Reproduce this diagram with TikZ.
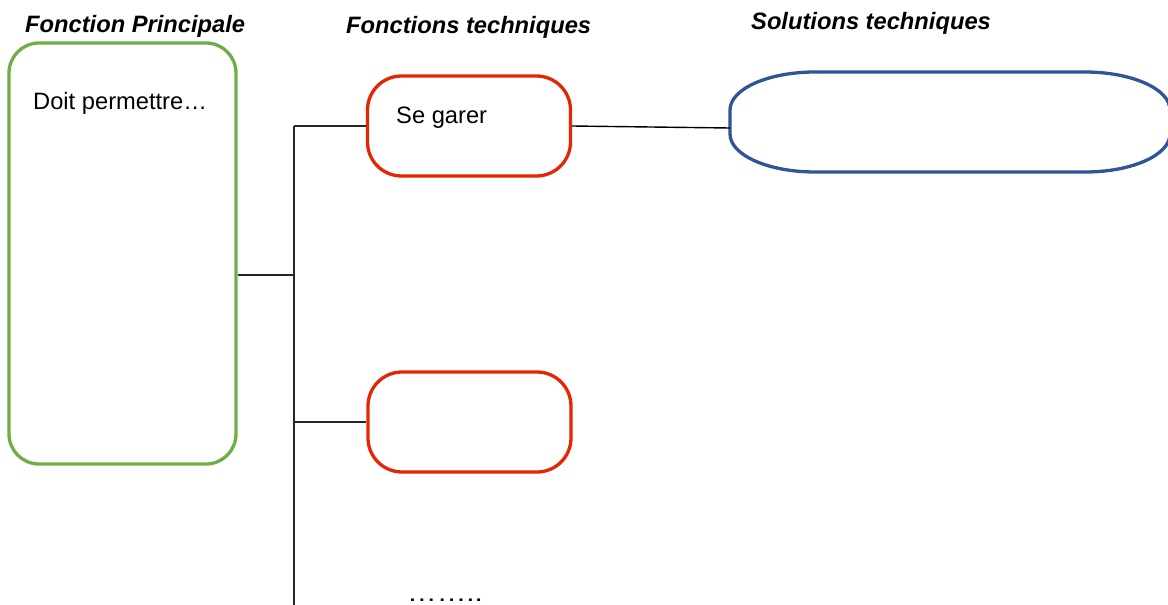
\documentclass[tikz,border=0pt]{standalone}
\usepackage{graphicx}
\usepackage{fontspec}
\setmainfont{Liberation Sans}
\definecolor{fpgreen}{RGB}{112,173,71}
\definecolor{ftred}{RGB}{228,38,4}
\definecolor{stblue}{RGB}{47,85,151}
\begin{document}
\begin{tikzpicture}[x=1pt,y=-1pt,
  txt/.style={inner sep=0pt,anchor=base west,font=\fontsize{23.7}{28}\selectfont},
  ttl/.style={inner sep=0pt,anchor=base west,font=\fontsize{23.7}{28}\selectfont\bfseries\itshape},
  fpbox/.style={draw=fpgreen,line width=3.3pt,rounded corners=30pt,minimum width=227pt,minimum height=421pt,inner sep=0pt},
  ftbox/.style={draw=ftred,line width=3.3pt,rounded corners=34pt,minimum width=203pt,minimum height=100pt,inner sep=0pt},
  tree/.style={draw=black!85,line width=2pt},
  thin/.style={draw=black,line width=1.4pt}]
\useasboundingbox (0,0) rectangle (1168,605);
\node[ttl] (t1) at (25,32) {Fonction Principale};
\node[ttl] (t2) at (346,34) {Fonctions techniques};
\node[ttl] (t3) at (751,29) {Solutions techniques};

\node[fpbox] (green) at (122.5,253.5) {};
\node[txt] (doit) at (33,109) {Doit permettre…};

\node[ftbox] (red1) at (469,126) {};
\node[txt] (garer) at (396,123) {Se garer};
\node[ftbox] (red2) at (469.5,422) {};

\node[minimum width=440pt,minimum height=100pt,inner sep=0pt] (blue) at (950,122) {};
\draw[stblue,line width=3.3pt]
  (730,110) .. controls (730,89) and (768,72) .. (815,72)
  -- (1085,72) .. controls (1132,72) and (1170,89) .. (1170,110)
  -- (1170,134) .. controls (1170,155) and (1132,172) .. (1085,172)
  -- (815,172) .. controls (768,172) and (730,155) .. (730,134) -- cycle;

\node[txt] (dots) at (407,601) {\scalebox{1.25}[1]{……..}};

\coordinate (trunkmid) at (294,275);
\coordinate (trunktop) at (294,126);
\coordinate (trunkbot) at (294,606);
\coordinate (bluein) at (730,128);

\draw[tree] (green.east |- trunkmid) -- (trunkmid);
\draw[tree] (trunktop) -- (trunkbot);
\draw[tree] (trunktop) -- (red1.west);
\draw[tree] (trunktop |- red2.west) -- (red2.west);
\draw[thin] (red1.east) -- (bluein);
\end{tikzpicture}
\end{document}
